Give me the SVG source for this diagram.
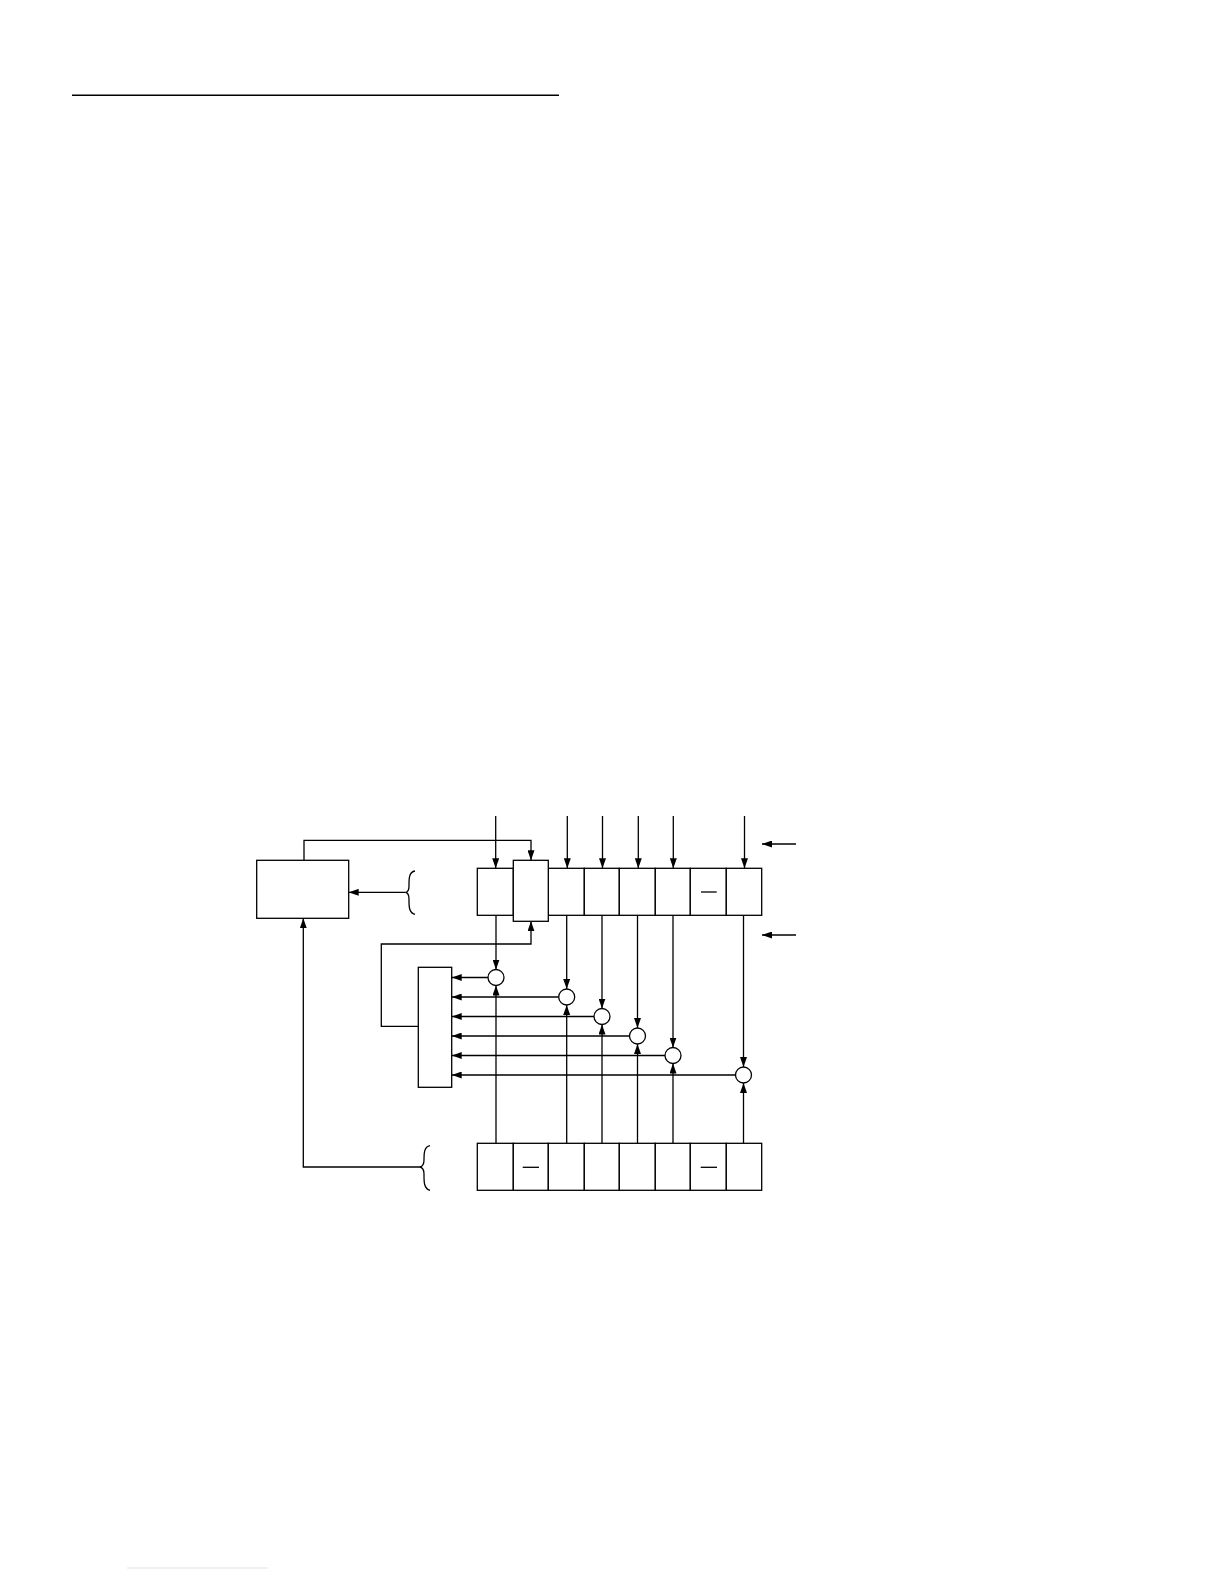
<svg xmlns="http://www.w3.org/2000/svg" width="1224" height="1584" viewBox="0 0 1224 1584">
<style>
.s{fill:none;stroke:#000;stroke-width:1.3}
.b{fill:#fff;stroke:#000;stroke-width:1.3}
.a{fill:none;stroke:#000;stroke-width:1.3;marker-end:url(#ah)}
</style>
<defs>
<marker id="ah" markerUnits="userSpaceOnUse" markerWidth="10" markerHeight="7" refX="10" refY="3.5" orient="auto">
<path d="M0,0 L10,3.5 L0,7 z" fill="#000"/>
</marker>
</defs>
<rect width="1224" height="1584" fill="#fff"/>
<line x1="72" y1="95.3" x2="559" y2="95.3" stroke="#000" stroke-width="1.6"/>
<line x1="127" y1="1568" x2="268" y2="1568" stroke="#dde6f4" stroke-width="1"/>

<g id="connectors">
<path class="a" d="M304,860.3 V840.3 H531 V860.3"/>
<line class="a" x1="495.7" y1="816" x2="495.7" y2="868.3"/>
<line class="a" x1="567.3" y1="816" x2="567.3" y2="868.3"/>
<line class="a" x1="602.5" y1="816" x2="602.5" y2="868.3"/>
<line class="a" x1="638.3" y1="816" x2="638.3" y2="868.3"/>
<line class="a" x1="673.3" y1="816" x2="673.3" y2="868.3"/>
<line class="a" x1="744.5" y1="816" x2="744.5" y2="868.3"/>
<line class="a" x1="796" y1="844" x2="762" y2="844"/>
<line class="a" x1="796" y1="935" x2="762" y2="935"/>
<line class="a" x1="405.7" y1="892.3" x2="348.7" y2="892.3"/>
<path class="a" d="M420,1167 H303.3 V918.3"/>
<path class="a" d="M418.3,1026.3 H381.3 V944 H531 V921.3"/>
<line class="a" x1="496" y1="915.3" x2="496" y2="969.5"/>
<line class="a" x1="566.7" y1="915.3" x2="566.7" y2="989"/>
<line class="a" x1="602" y1="915.3" x2="602" y2="1008.5"/>
<line class="a" x1="637.5" y1="915.3" x2="637.5" y2="1028"/>
<line class="a" x1="673" y1="915.3" x2="673" y2="1047.5"/>
<line class="a" x1="743.5" y1="915.3" x2="743.5" y2="1067"/>
<line class="a" x1="496" y1="1143.3" x2="496" y2="985.5"/>
<line class="a" x1="566.7" y1="1143.3" x2="566.7" y2="1005"/>
<line class="a" x1="602" y1="1143.3" x2="602" y2="1024.5"/>
<line class="a" x1="637.5" y1="1143.3" x2="637.5" y2="1044"/>
<line class="a" x1="673" y1="1143.3" x2="673" y2="1063.5"/>
<line class="a" x1="743.5" y1="1143.3" x2="743.5" y2="1083"/>
<line class="a" x1="488" y1="977.5" x2="451.7" y2="977.5"/>
<line class="a" x1="558.7" y1="997" x2="451.7" y2="997"/>
<line class="a" x1="594" y1="1016.5" x2="451.7" y2="1016.5"/>
<line class="a" x1="629.5" y1="1036" x2="451.7" y2="1036"/>
<line class="a" x1="665" y1="1055.5" x2="451.7" y2="1055.5"/>
<line class="a" x1="735.5" y1="1075" x2="451.7" y2="1075"/>
</g>

<g id="left-box"><rect class="b" x="256.7" y="860.3" width="92" height="58"/></g>
<g id="brace-top"><path class="s" d="M415,871 C408.5,872 409,880 409,886 C409,890 407.5,892 405.7,892.3 C407.5,892.8 409,895 409,899 C409,905 408.5,913 415,914.3"/></g>
<g id="brace-bottom"><path class="s" d="M430,1145.7 C423.5,1147 424,1155 424,1160 C424,1164 422,1166.5 420,1167 C422,1167.5 424,1170 424,1174 C424,1180 423.5,1189 430,1190.3"/></g>

<g id="top-register">
<rect class="b" x="477.3" y="868.3" width="36" height="47"/>
<rect class="b" x="548.3" y="868.3" width="36" height="47"/>
<rect class="b" x="584.3" y="868.3" width="35" height="47"/>
<rect class="b" x="619.3" y="868.3" width="36" height="47"/>
<rect class="b" x="655.3" y="868.3" width="35" height="47"/>
<rect class="b" x="690.3" y="868.3" width="36" height="47"/>
<rect class="b" x="726.3" y="868.3" width="35.4" height="47"/>
<line class="s" x1="701" y1="892" x2="716.7" y2="892"/>
</g>
<g id="tall-cell"><rect class="b" x="513.3" y="860.3" width="35" height="61"/></g>

<g id="mid-box"><rect class="b" x="418.3" y="967.3" width="33.4" height="120"/></g>

<g id="circles">
<circle class="b" cx="496" cy="977.5" r="8"/>
<circle class="b" cx="566.7" cy="997" r="8"/>
<circle class="b" cx="602" cy="1016.5" r="8"/>
<circle class="b" cx="637.5" cy="1036" r="8"/>
<circle class="b" cx="673" cy="1055.5" r="8"/>
<circle class="b" cx="743.5" cy="1075" r="8"/>
</g>

<g id="bottom-register">
<rect class="b" x="477.3" y="1143.3" width="36" height="47"/>
<rect class="b" x="513.3" y="1143.3" width="35" height="47"/>
<rect class="b" x="548.3" y="1143.3" width="36" height="47"/>
<rect class="b" x="584.3" y="1143.3" width="35" height="47"/>
<rect class="b" x="619.3" y="1143.3" width="36" height="47"/>
<rect class="b" x="655.3" y="1143.3" width="35" height="47"/>
<rect class="b" x="690.3" y="1143.3" width="36" height="47"/>
<rect class="b" x="726.3" y="1143.3" width="35.4" height="47"/>
<line class="s" x1="522.7" y1="1167.3" x2="539" y2="1167.3"/>
<line class="s" x1="700.7" y1="1167.3" x2="717" y2="1167.3"/>
</g>
</svg>
